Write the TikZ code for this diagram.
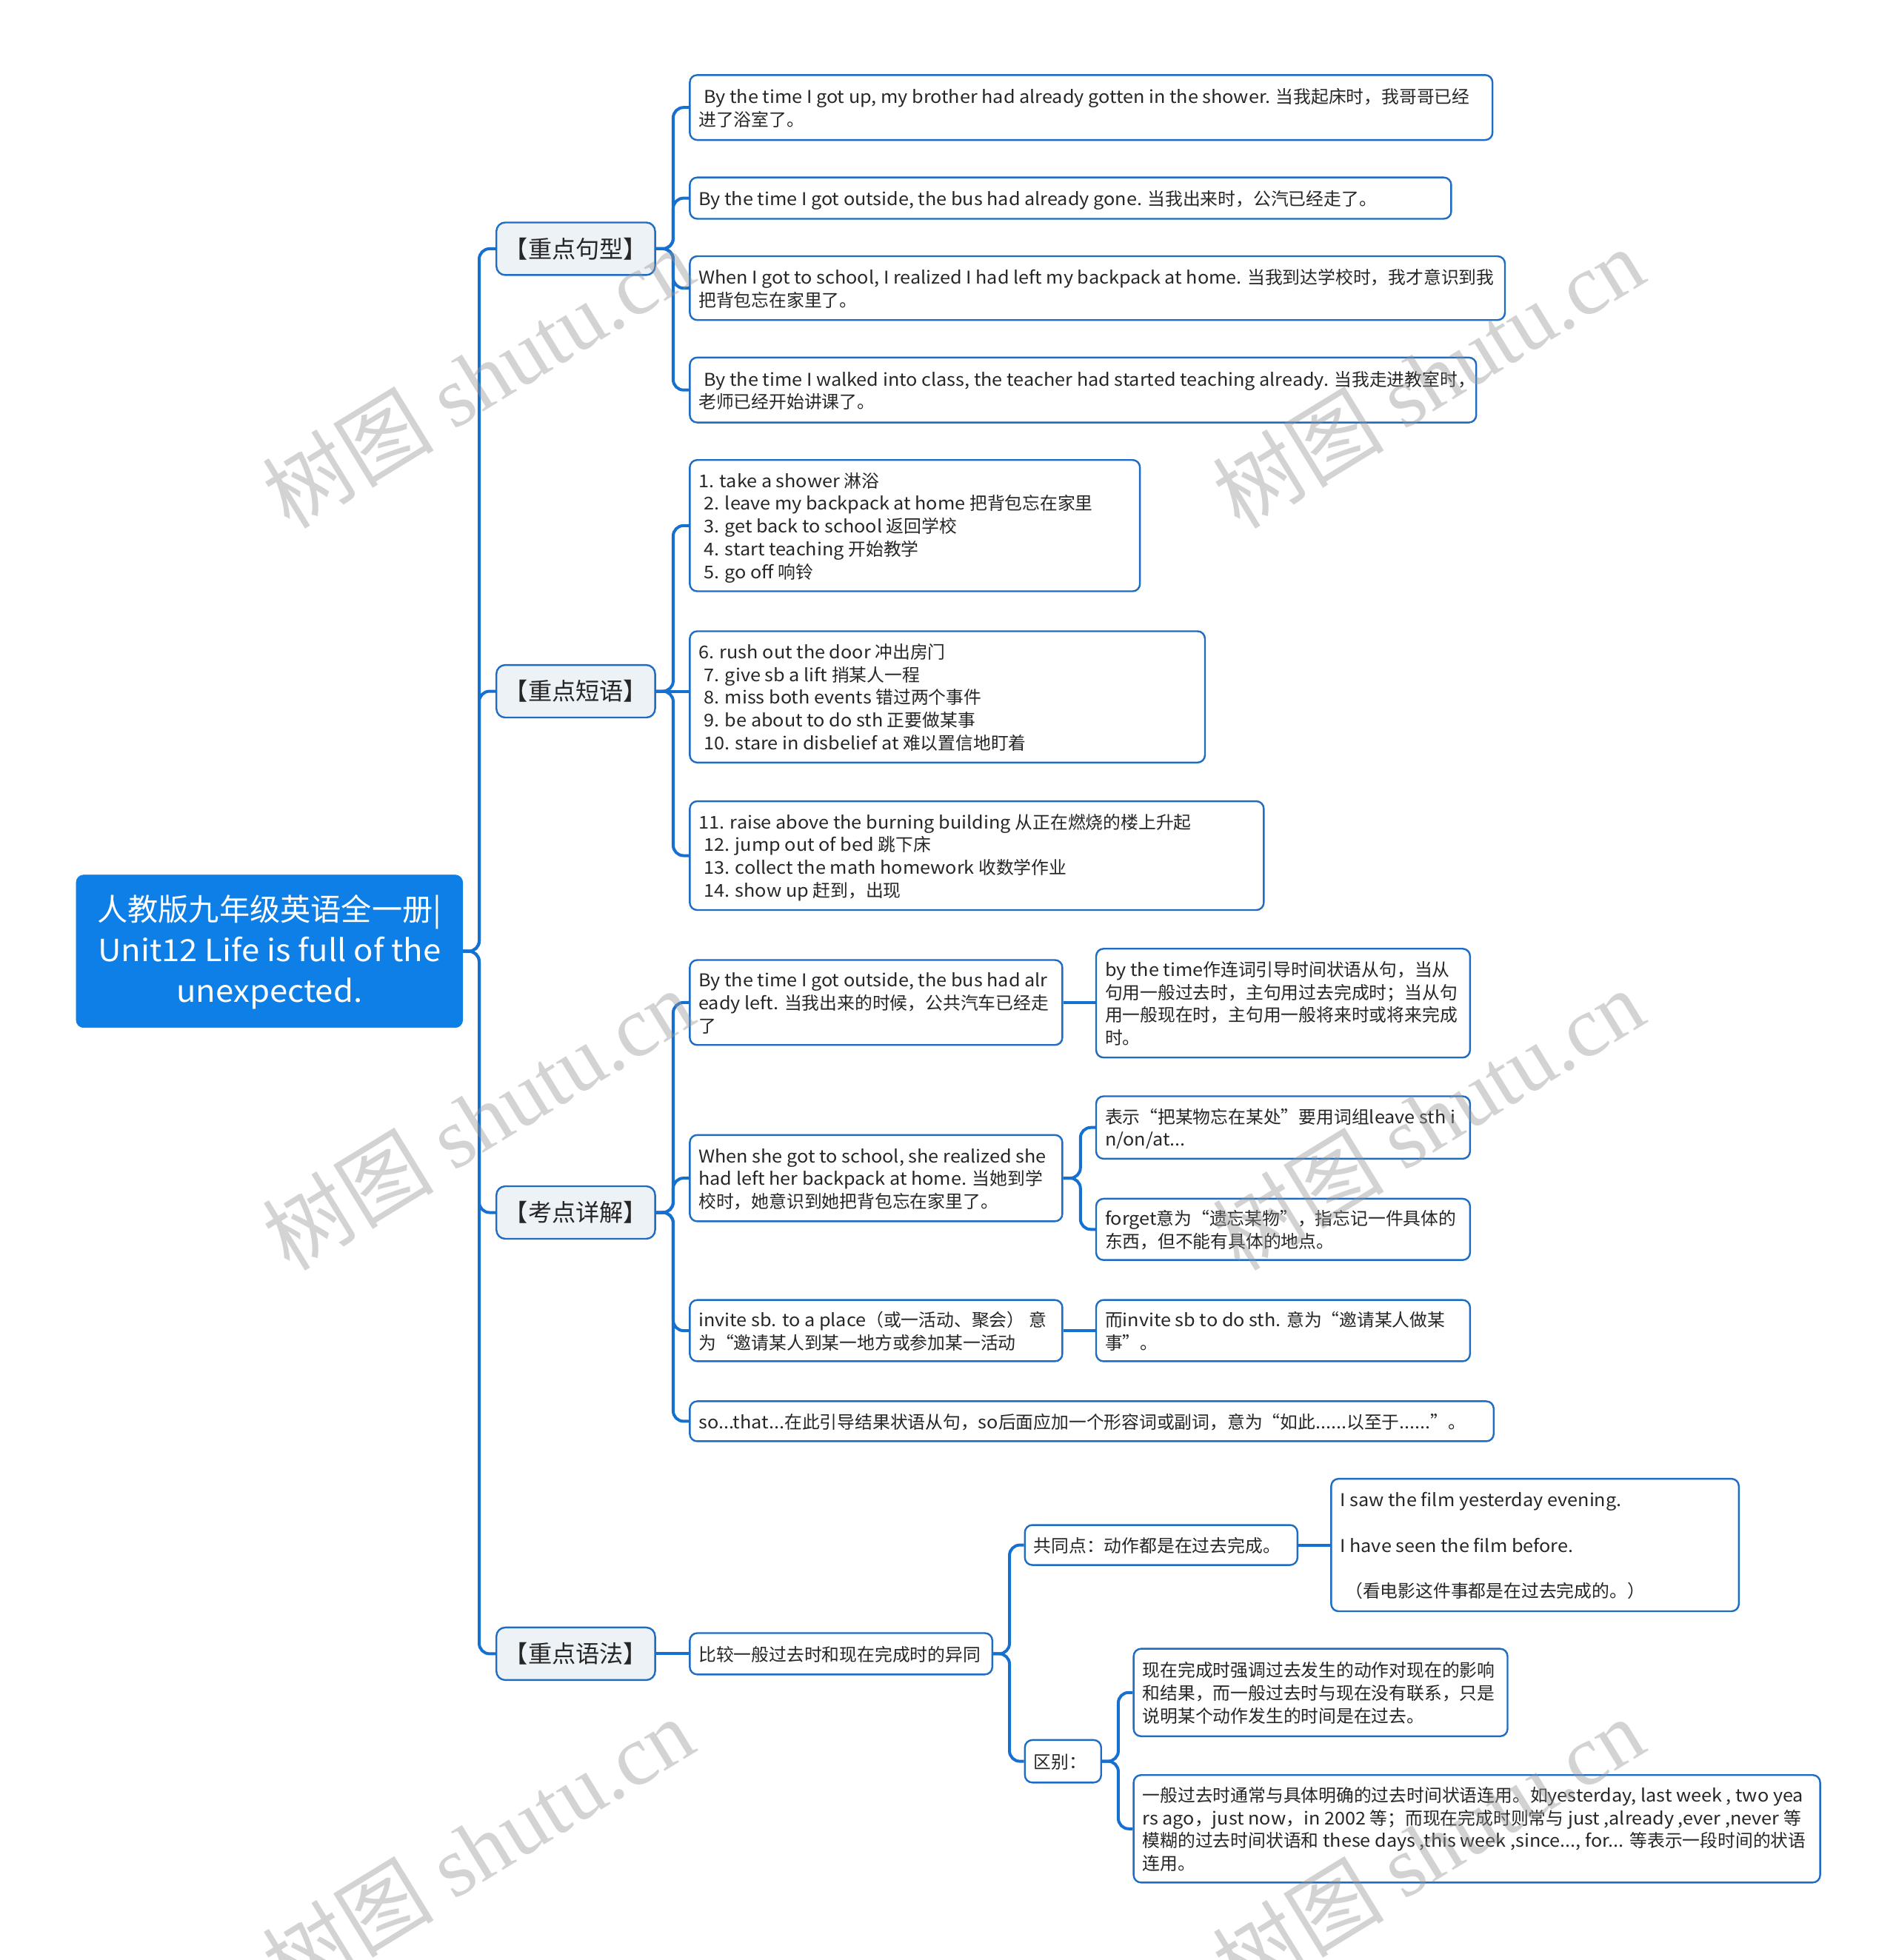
\documentclass[tikz,border=0pt]{standalone}
\usepackage{fontspec}
\setmainfont{Noto Sans CJK SC}[FakeStretch=1.06]
\newfontfamily\latf{Noto Sans CJK SC}[FakeStretch=1.06]
\newfontfamily\cjkf{Noto Sans CJK SC}
\newfontfamily\wmlatin{Liberation Serif}
\XeTeXinterchartokenstate=1
\newXeTeXintercharclass\cjkcls
\newcount\cc
\cc="3000 \loop\ifnum\cc<"3040 \XeTeXcharclass\cc=\cjkcls \advance\cc by 1 \repeat
\cc="4E00 \loop\ifnum\cc<"A000 \XeTeXcharclass\cc=\cjkcls \advance\cc by 1 \repeat
\cc="FF00 \loop\ifnum\cc<"FFF0 \XeTeXcharclass\cc=\cjkcls \advance\cc by 1 \repeat
\XeTeXcharclass"201C=\cjkcls
\XeTeXcharclass"201D=\cjkcls
\XeTeXinterchartoks 0 \cjkcls = {\cjkf}
\XeTeXinterchartoks 4095 \cjkcls = {\cjkf}
\XeTeXinterchartoks \cjkcls 0 = {\latf}
\XeTeXinterchartoks \cjkcls 4095 = {\latf}
\definecolor{rootblue}{RGB}{14,127,230}
\definecolor{lineblue}{RGB}{22,112,208}
\definecolor{boxblue}{RGB}{30,108,196}
\definecolor{lvlfill}{RGB}{237,242,247}
\definecolor{txt}{RGB}{38,38,38}
\definecolor{wmgray}{RGB}{150,150,150}
\newcommand\lsp{\hspace*{3.5pt}}
\newcommand\bx[2]{\makebox[#1pt][l]{\raisebox{-1.8pt}[\height][\depth]{\begin{tabular}{@{}l@{}}#2\end{tabular}}}}
\newcommand\conn[3]{\draw[conn,rounded corners=7pt] (#2.west) -| ([xshift=#3]#1.east) [sharp corners] -- (#1.east);}
\newcommand\straight[2]{\draw[conn] (#1.east) -- (#1.east -| #2.west);}
\begin{document}
\begin{tikzpicture}[x=0.84435pt,y=-0.84435pt,
  rootbox/.style={fill=rootblue,draw=rootblue,rounded corners=5pt,text=white,
    font=\fontsize{20.6}{27.4}\selectfont,minimum width=260.9pt,minimum height=103pt,inner sep=0pt},
  lvl/.style={fill=lvlfill,draw=boxblue,line width=1.2pt,rounded corners=6pt,text=txt,
    font=\fontsize{16.1}{19}\selectfont,minimum width=107.2pt,minimum height=35.5pt,inner sep=0pt},
  leaf/.style={fill=white,draw=boxblue,line width=1.2pt,rounded corners=5pt,text=txt,
    font=\fontsize{11.9}{15.4}\selectfont,inner xsep=6pt,inner ysep=0pt,anchor=west},
  conn/.style={draw=lineblue,line width=2pt},
  wm/.style={text=wmgray,opacity=0.42,rotate=31.5,font=\fontsize{58}{64}\selectfont}]
\useasboundingbox (0,0) rectangle (1516,1568);

% root and level 1
\node[rootbox] (root) at (215.5,761) {\raisebox{-1.5pt}[\height][\depth]{\begin{tabular}{@{}c@{}}人教版九年级英语全一册|\\Unit12 Life is full of the\\unexpected.\end{tabular}}};
\node[lvl] (s1) at (460.5,199) {【重点句型】};
\node[lvl] (s2) at (460.5,553) {【重点短语】};
\node[lvl] (s3) at (460.5,970) {【考点详解】};
\node[lvl] (s4) at (460.5,1323) {【重点语法】};

% 重点句型
\node[leaf,minimum height=43.9pt] (a1) at (551,86) {\bx{530.1}{\lsp By the time I got up, my brother had already gotten in the shower. 当我起床时，我哥哥已经\\进了浴室了。}};
\node[leaf,minimum height=27.9pt] (a2) at (551,158.5) {\bx{502.2}{By the time I got outside, the bus had already gone. 当我出来时，公汽已经走了。}};
\node[leaf,minimum height=43.1pt] (a3) at (551,230.5) {\bx{538.5}{When I got to school, I realized I had left my backpack at home. 当我到达学校时，我才意识到我\\把背包忘在家里了。}};
\node[leaf,minimum height=43.9pt] (a4) at (551,312) {\bx{519.1}{\lsp By the time I walked into class, the teacher had started teaching already. 当我走进教室时，\\老师已经开始讲课了。}};

% 重点短语
\node[leaf,minimum height=88.7pt] (b1) at (551,420.5) {\bx{292.0}{1. take a shower 淋浴\\\lsp 2. leave my backpack at home 把背包忘在家里\\\lsp 3. get back to school 返回学校\\\lsp 4. start teaching 开始教学\\\lsp 5. go off 响铃}};
\node[leaf,minimum height=88.7pt] (b2) at (551,557.5) {\bx{335.9}{6. rush out the door 冲出房门\\\lsp 7. give sb a lift 捎某人一程\\\lsp 8. miss both events 错过两个事件\\\lsp 9. be about to do sth 正要做某事\\\lsp 10. stare in disbelief at 难以置信地盯着}};
\node[leaf,minimum height=73.5pt] (b3) at (551,684.5) {\bx{375.6}{11. raise above the burning building 从正在燃烧的楼上升起\\\lsp 12. jump out of bed 跳下床\\\lsp 13. collect the math homework 收数学作业\\\lsp 14. show up 赶到，出现}};

% 考点详解
\node[leaf,minimum height=57.4pt] (c1) at (551,802) {\bx{239.6}{By the time I got outside, the bus had alr\\eady left. 当我出来的时候，公共汽车已经走\\了}};
\node[leaf,minimum height=73.5pt] (c1a) at (876,802.5) {\bx{240.5}{by the time作连词引导时间状语从句，当从\\句用一般过去时，主句用过去完成时；当从句\\用一般现在时，主句用一般将来时或将来完成\\时。}};
\node[leaf,minimum height=58.3pt] (c2) at (551,942.5) {\bx{239.6}{When she got to school, she realized she\\had left her backpack at home. 当她到学\\校时，她意识到她把背包忘在家里了。}};
\node[leaf,minimum height=42.2pt] (c2a) at (876,902) {\bx{240.5}{表示“把某物忘在某处”要用词组leave sth i\\n/on/at...}};
\node[leaf,minimum height=41.4pt] (c2b) at (876,983.5) {\bx{240.5}{forget意为“遗忘某物”，指忘记一件具体的\\东西，但不能有具体的地点。}};
\node[leaf,minimum height=41.4pt] (c3) at (551,1064.5) {\bx{239.6}{invite sb. to a place（或一活动、聚会） 意\\为“邀请某人到某一地方或参加某一活动}};
\node[leaf,minimum height=41.4pt] (c3a) at (876,1064.5) {\bx{240.5}{而invite sb to do sth. 意为“邀请某人做某\\事”。}};
\node[leaf,minimum height=27pt] (c4) at (551,1137) {\bx{530.9}{so...that...在此引导结果状语从句，so后面应加一个形容词或副词，意为“如此......以至于......”。}};

% 重点语法
\node[leaf,minimum height=27.9pt] (d1) at (551,1323) {\bx{192.3}{比较一般过去时和现在完成时的异同}};
\node[leaf,minimum height=27pt] (d1a) at (819,1236) {\bx{172.1}{共同点：动作都是在过去完成。}};
\node[leaf,minimum height=89.5pt] (d1a1) at (1064,1236) {\bx{263.3}{I saw the film yesterday evening.\\ \\I have seen the film before.\\ \\\lsp （看电影这件事都是在过去完成的。）}};
\node[leaf,minimum height=28.7pt] (d1b) at (819,1409) {\bx{39.5}{区别：}};
\node[leaf,minimum height=59.1pt] (d1b1) at (906,1354) {\bx{240.5}{现在完成时强调过去发生的动作对现在的影响\\和结果，而一般过去时与现在没有联系，只是\\说明某个动作发生的时间是在过去。}};
\node[leaf,minimum height=72.6pt] (d1b2) at (906,1463) {\bx{451.6}{一般过去时通常与具体明确的过去时间状语连用。如yesterday, last week , two yea\\rs ago，just now，in 2002 等；而现在完成时则常与 just ,already ,ever ,never 等\\模糊的过去时间状语和 these days ,this week ,since..., for... 等表示一段时间的状语\\连用。}};

% connectors
\conn{root}{s1}{11pt}
\conn{root}{s2}{11pt}
\conn{root}{s3}{11pt}
\conn{root}{s4}{11pt}
\conn{s1}{a1}{11.6pt}
\conn{s1}{a2}{11.6pt}
\conn{s1}{a3}{11.6pt}
\conn{s1}{a4}{11.6pt}
\conn{s2}{b1}{11.6pt}
\straight{s2}{b2}
\conn{s2}{b3}{11.6pt}
\conn{s3}{c1}{11.6pt}
\conn{s3}{c2}{11.6pt}
\conn{s3}{c3}{11.6pt}
\conn{s3}{c4}{11.6pt}
\straight{c1}{c1a}
\conn{c2}{c2a}{11.6pt}
\conn{c2}{c2b}{11.6pt}
\straight{c3}{c3a}
\straight{s4}{d1}
\conn{d1}{d1a}{11pt}
\conn{d1}{d1b}{11pt}
\straight{d1a}{d1a1}
\conn{d1b}{d1b1}{11pt}
\conn{d1b}{d1b2}{11pt}

% watermarks
\foreach \wx/\wy [count=\i] in {382/302,1142/302,382/895,1142/895,382/1478,1142/1478}
  \node[wm] (wm\i) at (\wx,\wy) {\cjkf 树图 \wmlatin shutu.cn};
\end{tikzpicture}
\end{document}
